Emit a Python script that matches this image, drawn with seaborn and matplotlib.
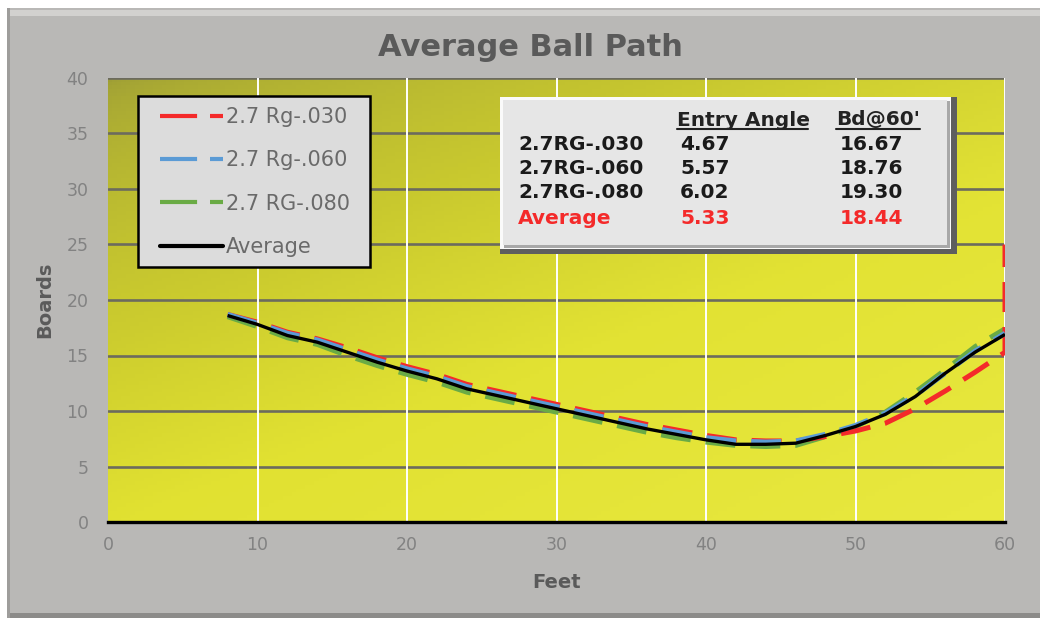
import numpy as np
import pandas as pd
import matplotlib
matplotlib.use("Agg")
import matplotlib.pyplot as plt
import seaborn as sns
from matplotlib.patches import Rectangle
from matplotlib.lines import Line2D

# --- DATA ---
feet = [8, 10, 12, 14, 16, 18, 20, 22, 24, 26, 28, 30, 32, 34,
        36, 38, 40, 42, 44, 46, 48, 50, 52, 54, 56, 58, 60]

rg030 = [18.7, 18.0, 17.1, 16.5, 15.7, 14.8, 14.0, 13.3, 12.4, 11.8, 11.2, 10.6, 10.0, 9.4,
         8.8, 8.3, 7.8, 7.4, 7.3, 7.3, 7.7, 8.2, 8.9, 10.2, 11.8, 13.5, 15.3]
rg030_tail_feet = [60]
rg030_tail = [25.0]  # red line runs up the right edge
rg060 = [18.7, 17.9, 17.0, 16.4, 15.5, 14.6, 13.8, 13.1, 12.2, 11.6, 11.0, 10.4, 9.8, 9.2,
         8.6, 8.1, 7.6, 7.3, 7.2, 7.3, 7.9, 8.7, 9.8, 11.4, 13.4, 15.4, 17.0]
rg080 = [18.5, 17.6, 16.6, 16.0, 15.0, 14.1, 13.3, 12.6, 11.7, 11.1, 10.5, 9.9, 9.3, 8.7,
         8.1, 7.6, 7.2, 6.9, 6.8, 6.9, 7.7, 8.6, 9.9, 11.7, 13.7, 15.8, 17.4]
average = [18.6, 17.8, 16.8, 16.2, 15.3, 14.4, 13.6, 12.9, 12.0, 11.4, 10.8, 10.2, 9.6, 9.0,
           8.4, 7.9, 7.4, 7.0, 7.0, 7.1, 7.8, 8.6, 9.7, 11.3, 13.4, 15.3, 16.9]

series_labels = ["2.7 Rg-.030", "2.7 Rg-.060", "2.7 RG-.080", "Average"]

table_names = ["2.7RG-.030", "2.7RG-.060", "2.7RG-.080", "Average"]
entry_angle = ["4.67", "5.57", "6.02", "5.33"]
bd_at_60 = ["16.67", "18.76", "19.30", "18.44"]

x_ticks = [0, 10, 20, 30, 40, 50, 60]
y_ticks = [0, 5, 10, 15, 20, 25, 30, 35, 40]

# --- STYLE ---
RED = "#f42a2a"
BLUE = "#5b9bd5"
GREEN = "#6aab45"
TXT = "#828282"
LBL = "#5a5a5a"

sns.set_theme(style="white")
plt.rcParams['font.family'] = ['DejaVu Sans']

fig = plt.figure(figsize=(10.4, 6.18), dpi=100)
fig.patch.set_facecolor("white")

# outer grey chart frame with a little bevel
W, H = 1040.0, 618.0
fig.add_artist(Rectangle((7 / W, 0), 1, (618 - 8) / H, transform=fig.transFigure,
                         fc="#b9b8b6", ec="none", zorder=-10))
fig.add_artist(Rectangle((7 / W, (618 - 16) / H), 1, 6 / H, transform=fig.transFigure,
                         fc="#d2d1cf", ec="none", zorder=-9))
fig.add_artist(Rectangle((7 / W, 0), 1, 5 / H, transform=fig.transFigure,
                         fc="#8c8b89", ec="none", zorder=-9))
fig.add_artist(Rectangle((7 / W, 0), 3 / W, (618 - 8) / H, transform=fig.transFigure,
                         fc="#9e9d9b", ec="none", zorder=-9))

ax = fig.add_axes([108 / W, 1 - 522 / H, (1005 - 108) / W, (522 - 78) / H])

# diagonal olive -> yellow gradient for the plot area
gx, gy = np.meshgrid(np.linspace(0, 1, 200), np.linspace(0, 1, 120))
t = np.clip((gx * 0.55 + gy * 0.75) / 0.75, 0, 1) ** 0.6
c0 = np.array([0.62, 0.62, 0.21])
c1 = np.array([0.87, 0.87, 0.17])
c2 = np.array([0.93, 0.93, 0.28])
u = np.clip(gx * 0.5 + gy * 0.5, 0, 1)
base = c0 + (c1 - c0) * t[..., None]
grad = base + (c2 - c1) * np.clip(u - 0.3, 0, 1)[..., None]
grad = np.clip(grad, 0, 1)
ax.imshow(grad, extent=[0, 60, 0, 40], aspect="auto", origin="upper", zorder=0)

# long table for seaborn
rows = []
for name, vals in zip(series_labels, [rg030, rg060, rg080, average]):
    for f, v in zip(feet, vals):
        rows.append((name, f, v))
for f, v in zip(rg030_tail_feet, rg030_tail):
    rows.append((series_labels[0], f, v))
df = pd.DataFrame(rows, columns=["series", "Feet", "Boards"])

dash = (6, 3)
styles = {
    series_labels[2]: dict(color=GREEN, lw=3.6, dashes=dash, z=3),
    series_labels[0]: dict(color=RED, lw=3.6, dashes=dash, z=4),
    series_labels[1]: dict(color=BLUE, lw=3.6, dashes=dash, z=5),
    series_labels[3]: dict(color="black", lw=2.4, dashes=None, z=6),
}
for name in [series_labels[2], series_labels[0], series_labels[1], series_labels[3]]:
    st = styles[name]
    sub = df[df["series"] == name]
    sns.lineplot(data=sub, x="Feet", y="Boards", sort=False, estimator=None,
                 color=st["color"], lw=st["lw"], ax=ax, zorder=st["z"], legend=False)
    ln = ax.lines[-1]
    if st["dashes"] is not None:
        ln.set_dashes(st["dashes"])
    ln.set_solid_capstyle("butt")
    ln.set_dash_capstyle("butt")

# axes, grid
ax.set_xlim(0, 60)
ax.set_ylim(0, 40)
ax.set_xticks(x_ticks)
ax.set_yticks(y_ticks)
for yv in y_ticks[1:]:
    ax.axhline(yv, color="#6c6b5e", lw=1.9, zorder=1)
for xv in x_ticks[1:]:
    ax.axvline(xv, color="white", lw=1.4, zorder=1)
for s in ["top", "right", "left"]:
    ax.spines[s].set_visible(False)
ax.spines["bottom"].set_color("black")
ax.spines["bottom"].set_linewidth(2.4)
ax.spines["bottom"].set_zorder(7)
ax.tick_params(axis="both", length=0, labelsize=12.5, labelcolor=TXT)
ax.tick_params(axis="y", pad=14)
ax.tick_params(axis="x", pad=10)
ax.set_xlabel("Feet", fontsize=14, fontweight="bold", color=LBL, labelpad=14)
ax.set_ylabel("Boards", fontsize=14, fontweight="bold", color=LBL, labelpad=9)
fig.text(530 / W, 1 - 47 / H, "Average Ball Path", ha="center", va="center",
         fontsize=22, fontweight="bold", color=LBL)


def ax_x(px):
    return (px - 108) / 897.0


def ax_y(py):
    return (522 - py) / 444.0


# legend: own framed box, legend itself without frame
ax.add_patch(Rectangle((ax_x(138), ax_y(267)), ax_x(370) - ax_x(138), ax_y(96) - ax_y(267),
                       transform=ax.transAxes, fc="#dcdcdc", ec="black", lw=1.8, zorder=9))
handles = [
    Line2D([], [], color=RED, lw=3, dashes=(8.9, 3.1)),
    Line2D([], [], color=BLUE, lw=3, dashes=(8.9, 3.1)),
    Line2D([], [], color=GREEN, lw=3, dashes=(8.9, 3.1)),
    Line2D([], [], color="black", lw=3),
]
leg = ax.legend(handles, series_labels, loc="upper left",
                bbox_to_anchor=(ax_x(160), ax_y(107)), borderaxespad=0, borderpad=0,
                frameon=False, fontsize=15, handlelength=3.0, handletextpad=0.15,
                labelspacing=1.12)
leg.set_zorder(10)
for txt in leg.get_texts():
    txt.set_color("#6a6a6a")

# stats table box (beveled)
box_kw = dict(transform=ax.transAxes, zorder=10, ec="none")
ax.add_patch(Rectangle((ax_x(500), ax_y(254)), ax_x(957) - ax_x(500), ax_y(97) - ax_y(254),
                       fc="#5e5e5e", **box_kw))
ax.add_patch(Rectangle((ax_x(500), ax_y(249)), ax_x(951) - ax_x(500), ax_y(97) - ax_y(249),
                       fc="#fafafa", **box_kw))
ax.add_patch(Rectangle((ax_x(504), ax_y(248)), ax_x(950) - ax_x(504), ax_y(101) - ax_y(248),
                       fc="#a8a8a8", **box_kw))
ax.add_patch(Rectangle((ax_x(503), ax_y(245)), ax_x(947) - ax_x(503), ax_y(100) - ax_y(245),
                       fc="#e6e6e6", **box_kw))

tkw = dict(transform=ax.transAxes, va="center", ha="left", fontsize=14.5,
           fontweight="bold", zorder=11)
ax.text(ax_x(677), ax_y(120), "Entry Angle", color="#222222", **tkw)
ax.text(ax_x(836), ax_y(120), "Bd@60'", color="#222222", **tkw)
ax.add_line(Line2D([ax_x(677), ax_x(808)], [ax_y(129), ax_y(129)], transform=ax.transAxes,
                   color="#222222", lw=1.5, zorder=11))
ax.add_line(Line2D([ax_x(836), ax_x(920)], [ax_y(129), ax_y(129)], transform=ax.transAxes,
                   color="#222222", lw=1.5, zorder=11))
row_y = [145, 169, 193, 218]
for i, (nm, ea, bd) in enumerate(zip(table_names, entry_angle, bd_at_60)):
    col = RED if nm == "Average" else "#1a1a1a"
    ax.text(ax_x(518), ax_y(row_y[i]), nm, color=col, **tkw)
    ax.text(ax_x(680), ax_y(row_y[i]), ea, color=col, **tkw)
    ax.text(ax_x(840), ax_y(row_y[i]), bd, color=col, **tkw)

fig.savefig("out.png", dpi=100, facecolor=fig.get_facecolor())
